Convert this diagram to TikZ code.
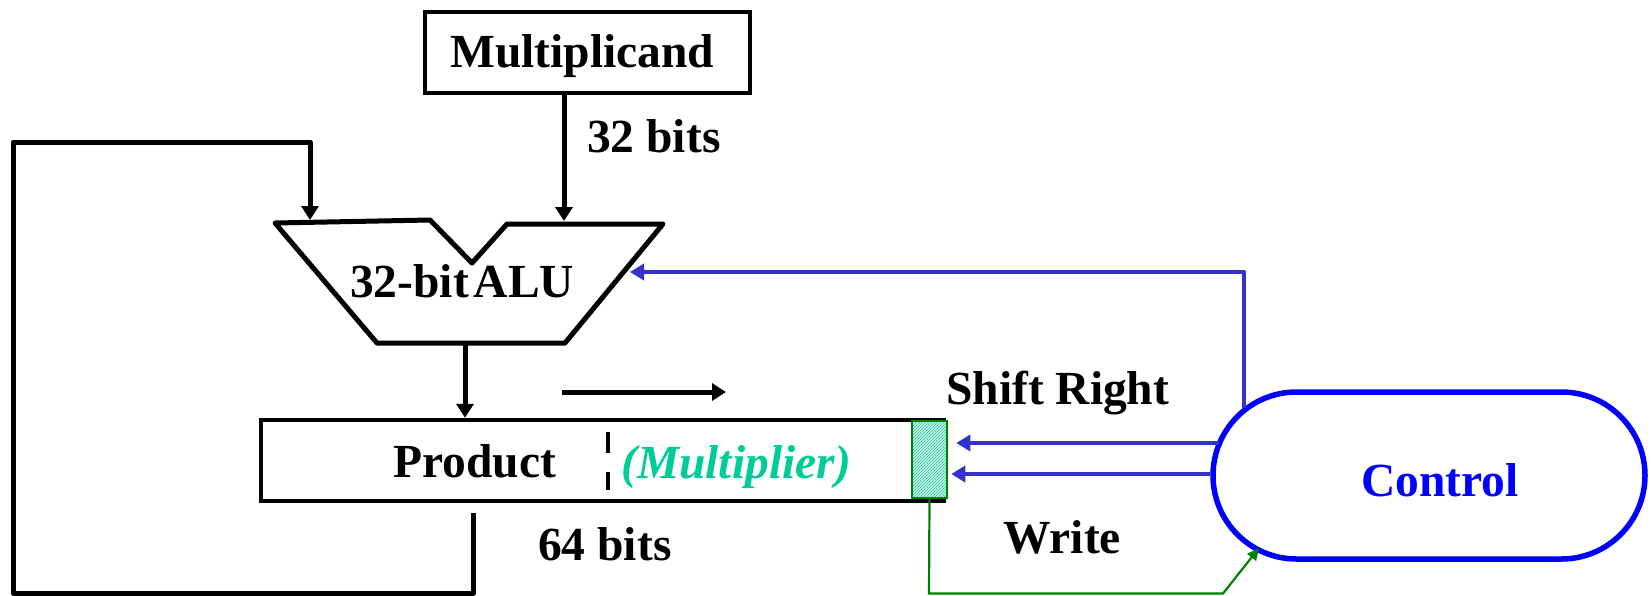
\documentclass[tikz,border=0pt]{standalone}
\usepackage{fontspec}
\setmainfont{Liberation Serif}
\usetikzlibrary{arrows.meta,patterns}
\definecolor{ctlblue}{RGB}{0,0,255}
\definecolor{sigblue}{RGB}{51,51,204}
\definecolor{dgreen}{RGB}{0,128,0}
\definecolor{multc}{RGB}{0,204,153}
\definecolor{hatchc}{RGB}{40,200,160}
\definecolor{hatchbg}{RGB}{200,243,230}
\begin{document}
\begin{tikzpicture}[x=1pt,y=-1pt,
  wire/.style={line width=5pt, line join=round},
  arr/.style={wire,-{Triangle[length=14pt,width=17pt]}},
  sarr/.style={line width=4.5pt, draw=sigblue, line join=round, -{Triangle[length=14pt,width=16pt]}},
  garr/.style={line width=2.2pt, draw=dgreen, -{Triangle[length=12pt,width=11pt]}},
  lbl/.style={font=\bfseries\fontsize{47.5}{56}\selectfont, inner sep=0pt, anchor=base west},
  boxr/.style={draw, line width=4.5pt, inner sep=0pt},
]
\useasboundingbox (0,0) rectangle (1651,595);
\fill[white] (0,0) rectangle (1651,595);

% boxes
\node[boxr, minimum width=325pt, minimum height=81pt] (mcand) at (587.5,52.5) {};
\node[boxr, minimum width=683pt, minimum height=81pt] (prod) at (602.5,460.5) {};
\node[draw=dgreen, line width=2.5pt, minimum width=35pt, minimum height=77pt, inner sep=0pt,
      preaction={fill=hatchbg}, pattern=north east lines, pattern color=hatchc] (lsb) at (929.5,459.5) {};
\node[draw=ctlblue, line width=5.5pt, rounded corners=83.5pt, minimum width=432pt, minimum height=167pt, inner sep=0pt] (ctrl) at (1429,475.5) {};

% ALU
\draw[line width=5pt, line join=round] (275,223) -- (430,220) -- (472,263) -- (507,224) -- (663,224) -- (565,343) -- (377,343) -- cycle;
\coordinate (aluL) at (310,220);
\coordinate (aluR) at (564,221);
\coordinate (aluOut) at (465,343);
\coordinate (aluCtl) at (630,272);

% divider in product register
\draw[line width=4.5pt] (608,432) -- (608,453);
\draw[line width=4.5pt] (608,472) -- (608,490);

% labels
\node[lbl] (tmc) at (450,67) {Multiplicand};
\node[lbl] (t32) at (587,152) {32 bits};
\node[lbl] (talu) at (350,297) {32-bit\hspace{5pt}ALU};
\node[lbl] (tprod) at (393,477) {Product};
\node[lbl, text=multc, font=\bfseries\itshape\fontsize{47.5}{56}\selectfont] (tmult) at (621,478) {(Multiplier)};
\node[lbl] (tsr) at (946,404) {Shift Right};
\node[lbl] (twr) at (1003,553) {Write};
\node[lbl] (t64) at (538,560) {64 bits};
\node[lbl, text=ctlblue] (tctl) at (1361,496) {Control};

% black connectors
\draw[arr] (mcand.south -| aluR) -- (aluR);
\coordinate (fb0) at (473,513);
\draw[arr] (fb0) -- (473,593) -| (13,142) -| (aluL);
\draw[arr] (aluOut) -- (prod.north -| aluOut);
\coordinate (sh0) at (562,392);
\coordinate (sh1) at (726,392);
\draw[arr] (sh0) -- (sh1);

% control signals
\coordinate (c0) at (1244,408);
\draw[sarr] (c0) |- (aluCtl);
\coordinate (c1) at (1219,443);
\draw[sarr] (c1) -- ([xshift=8pt]lsb.east |- c1);
\draw[sarr] (ctrl.west |- 0,474) -- ([xshift=3pt]lsb.east |- 0,474);

% write signal
\coordinate (cin) at (1259,548);
\draw[garr] (lsb.south) -- (929,593.5) -- (1223,593.5) -- (cin);
\end{tikzpicture}
\end{document}
